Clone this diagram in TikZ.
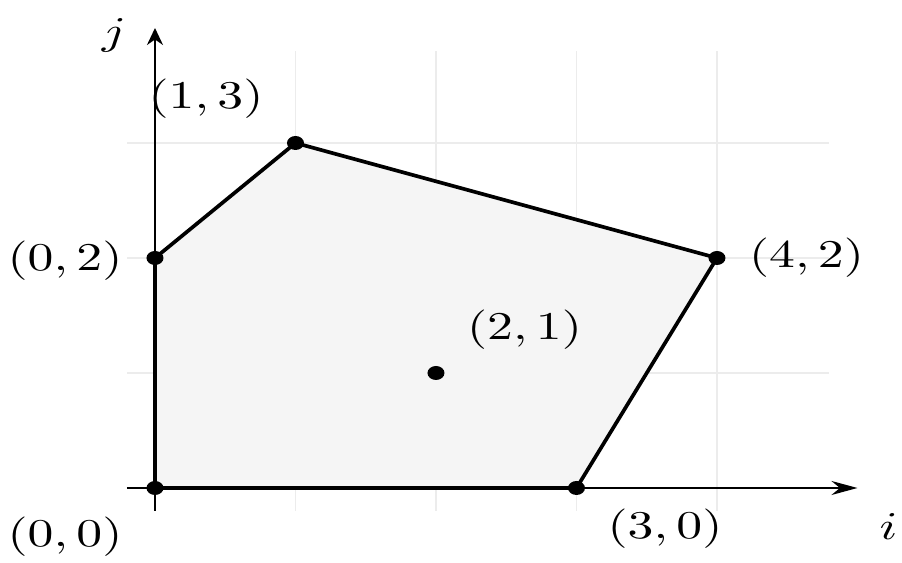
\documentclass[tikz,border=0pt]{standalone}
\usepackage{tikz}
\usetikzlibrary{arrows.meta}
\newcommand{\wide}[1]{\scalebox{1.47}[1.12]{$#1$}}

\begin{document}
\begin{tikzpicture}[x=1.405cm, y=1.15cm,
  lbl/.style={inner sep=0pt},
  axis/.style={line width=0.6pt},
  edge/.style={line width=1.05pt, line join=round}]
  \useasboundingbox (-1.55cm,-0.75cm) rectangle (7.47cm,4.88cm);

  % Grid
  \foreach \x in {1,...,4}
    \draw[gray!15, line width=0.5pt] (\x,-0.2) -- (\x,3.8);
  \foreach \y in {1,...,3}
    \draw[gray!15, line width=0.5pt] (-0.2,\y) -- (4.8,\y);

  % Vertices
  \coordinate (p00) at (0,0);
  \coordinate (p30) at (3,0);
  \coordinate (p42) at (4,2);
  \coordinate (p13) at (1,3);
  \coordinate (p02) at (0,2);
  \coordinate (p21) at (2,1);

  % Polygon fill
  \fill[black!4] (p00) -- (p30) -- (p42) -- (p13) -- (p02) -- cycle;

  % Axes
  \coordinate (xstart) at (-0.2,0);
  \coordinate (xend) at (5,0);
  \coordinate (ystart) at (0,-0.2);
  \coordinate (yend) at (0,4);
  \draw[axis, -{Stealth[length=2.6mm, width=1.4mm]}] (xstart) -- (xend);
  \draw[axis, -{Stealth[length=1.7mm, width=1.6mm]}] (ystart) -- (yend);
  \node[lbl, xshift=0.31cm, yshift=-0.39cm] (ilab) at (xend) {\wide{i}};
  \node[lbl, xshift=-0.41cm, yshift=-0.07cm] (jlab) at (yend) {\wide{j}};

  % Polygon edges
  \draw[edge] (p00) -- (p30) -- (p42) -- (p13) -- (p02) -- cycle;

  % Points
  \foreach \p in {p00,p30,p42,p13,p02,p21}
    \fill (\p) ellipse [x radius=0.085cm, y radius=0.07cm];

  % Labels
  \node[lbl, xshift=-0.90cm, yshift=-0.485cm] (l00) at (p00) {\wide{(0,0)}};
  \node[lbl, xshift=0.885cm, yshift=-0.405cm] (l30) at (p30) {\wide{(3,0)}};
  \node[lbl, xshift=-0.90cm, yshift=-0.025cm] (l02) at (p02) {\wide{(0,2)}};
  \node[lbl, xshift=0.895cm] (l42) at (p42) {\wide{(4,2)}};
  \node[lbl, xshift=-0.895cm, yshift=0.445cm] (l13) at (p13) {\wide{(1,3)}};
  \node[lbl, xshift=0.885cm, yshift=0.43cm] (l21) at (p21) {\wide{(2,1)}};
\end{tikzpicture}
\end{document}
